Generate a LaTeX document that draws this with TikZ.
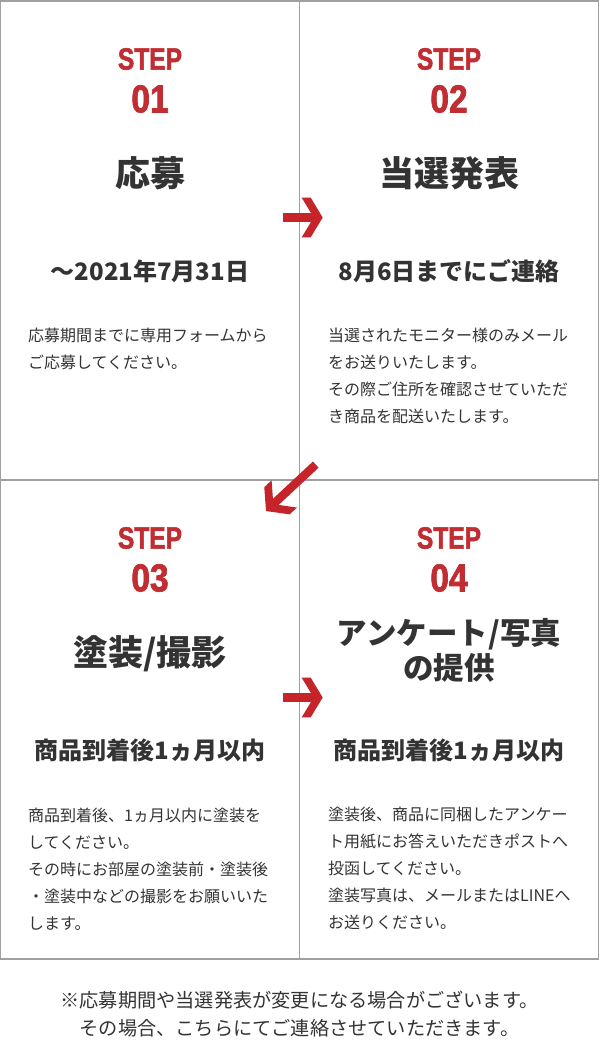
\documentclass[tikz,border=0pt]{standalone}
\usepackage{fontspec}
\newfontfamily\jp{Noto Sans CJK JP}
\newfontfamily\stepfa{Liberation Sans}[FakeStretch=0.8, FakeBold=1.6]
\newfontfamily\stepfb{Liberation Sans}[FakeStretch=0.86, FakeBold=1.8]
\definecolor{stepred}{RGB}{192,45,50}
\definecolor{arrowred}{RGB}{196,36,42}
\definecolor{ink}{RGB}{51,51,51}
\definecolor{gridgray}{RGB}{160,160,160}
\newcommand\parlines[1]{\vtop{\baselineskip=27pt\lineskiplimit=-100pt #1}}
\tikzset{
  steplabel/.style={text=stepred, font=\stepfa\bfseries\fontsize{30.7}{31}\selectfont, inner sep=0pt},
  stepnum/.style={text=stepred, font=\stepfb\bfseries\fontsize{39}{39}\selectfont, inner sep=0pt},
  titletext/.style={text=ink, font=\jp\bfseries\fontsize{35}{35}\selectfont, inner sep=0pt, align=center},
  smalltitle/.style={text=ink, font=\jp\bfseries\fontsize{30.5}{35}\selectfont, inner sep=0pt, align=center},
  subtext/.style={text=ink, font=\jp\bfseries\fontsize{24}{26}\selectfont, inner sep=0pt},
  bodytext/.style={text=ink, font=\jp\fontsize{16}{27}\selectfont, inner sep=0pt, anchor=base west},
  notetext/.style={text=ink, font=\jp\fontsize{19.2}{27.7}\selectfont, inner sep=0pt, align=center},
  gridline/.style={draw=gridgray, line width=1.2pt},
  arrowshape/.style={fill=arrowred, draw=none}
}
\begin{document}
\begin{tikzpicture}[x=1pt,y=-1pt]
\useasboundingbox (0,0) rectangle (599,1056);
\fill[white] (0,0) rectangle (599,1056);
% grid
\draw[gridline] (0.75,1) rectangle (598.25,959);
\draw[gridline] (299.5,1) -- (299.5,959);
\draw[gridline] (0.75,480) -- (598.25,480);

% STEP 01
\node[steplabel] (s1) at (150,59) {STEP};
\node[stepnum] (n1) at (150,99) {01};
\node[titletext] (t1) at (150,173.5) {応募};
\node[subtext] (d1) at (150,271) {～2021年7月31日};
\node[bodytext] (b1) at (28,341) {\parlines{\hbox{応募期間までに専用フォームから}\hbox{ご応募してください。}}};

% STEP 02
\node[steplabel] (s2) at (449,59) {STEP};
\node[stepnum] (n2) at (449,99) {02};
\node[titletext] (t2) at (449,173.5) {当選発表};
\node[subtext] (d2) at (449,271) {8月6日までにご連絡};
\node[bodytext] (b2) at (328,341) {\parlines{\hbox{当選されたモニター様のみメール}\hbox{をお送りいたします。}\hbox{その際ご住所を確認させていただ}\hbox{き商品を配送いたします。}}};

% STEP 03
\node[steplabel] (s3) at (150,538) {STEP};
\node[stepnum] (n3) at (150,578) {03};
\node[titletext] (t3) at (150,654) {塗装/撮影};
\node[subtext] (d3) at (150,750) {商品到着後1ヵ月以内};
\node[bodytext] (b3) at (28,821) {\parlines{\hbox{商品到着後、1ヵ月以内に塗装を}\hbox{してください。}\hbox{その時にお部屋の塗装前・塗装後}\hbox{・塗装中などの撮影をお願いいた}\hbox{します。}}};

% STEP 04
\node[steplabel] (s4) at (449,538) {STEP};
\node[stepnum] (n4) at (449,578) {04};
\node[smalltitle] (t4) at (449,650.5) {アンケート/写真\\の提供};
\node[subtext] (d4) at (449,750) {商品到着後1ヵ月以内};
\node[bodytext] (b4) at (328,820) {\parlines{\hbox{塗装後、商品に同梱したアンケー}\hbox{ト用紙にお答えいただきポストへ}\hbox{投函してください。}\hbox{塗装写真は、メールまたはLINEへ}\hbox{お送りください。}}};

% footnote
\node[notetext] (note) at (299.5,1014) {※応募期間や当選発表が変更になる場合がございます。\\その場合、こちらにてご連絡させていただきます。};

% arrows
\begin{scope}[shift={(322.7,217.5)}]
  \fill[arrowshape] (-40,-4.2) rectangle (-8,4.2);
  \fill[arrowshape] (-21,-19.8) -- (-12,-19.8) -- (0,0) -- (-12,19.8) -- (-21,19.8) -- (-9,0) -- cycle;
\end{scope}
\begin{scope}[shift={(322.7,697.5)}]
  \fill[arrowshape] (-40,-4.2) rectangle (-8,4.2);
  \fill[arrowshape] (-21,-19.8) -- (-12,-19.8) -- (0,0) -- (-12,19.8) -- (-21,19.8) -- (-9,0) -- cycle;
\end{scope}
\begin{scope}[shift={(266,511)}, rotate=223]
  \fill[arrowshape] (-68,-4.2) rectangle (-8,4.2);
  \fill[arrowshape] (-25,-18.6) -- (-15,-18.6) -- (0,0) -- (-15,18.6) -- (-25,18.6) -- (-10,0) -- cycle;
\end{scope}
\end{tikzpicture}
\end{document}
